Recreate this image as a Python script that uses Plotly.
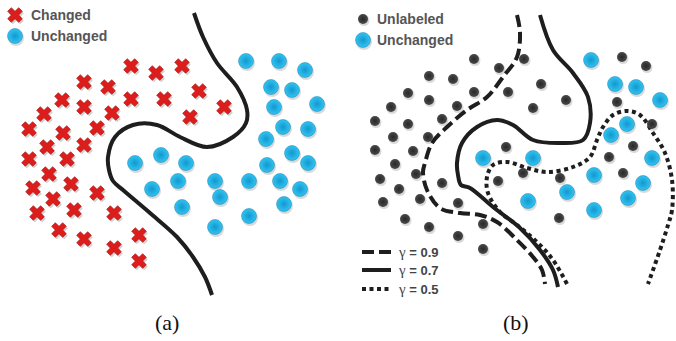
import plotly.graph_objects as go

# ---- panel (a) data (pixel-space coordinates of the illustration) ----
changed_x = [131,156,182,84,108,131,164,199,62,84,112,224,190,44,97,29,63,84,47,29,67,49,71,33,97,53,74,37,114,59,84,139,114,139]
changed_y = [66,73,66,82,87,99,99,91,100,107,113,107,117,114,128,129,133,145,147,159,159,174,184,188,193,199,210,213,213,230,239,235,248,261]

unch_a_x = [246,279,305,271,292,317,274,283,308,266,292,135,161,186,267,308,152,178,215,249,280,300,220,182,284,249,215]
unch_a_y = [61,61,70,87,90,104,107,127,129,139,153,163,155,163,165,163,189,181,181,181,181,189,197,207,204,216,227]

curve_a_x = [194,203,217,237,247,246,233,207,180,157,133,115,108,109,113,123,150,177,193,205,212]
curve_a_y = [13,37,63,87,110,123,137,147,137,125,125,137,157,170,181,190,213,237,257,277,295]

# ---- panel (b) data ----
unl_x = [474,499,524,429,453,541,408,474,508,429,457,533,566,391,375,408,442,393,428,375,413,506,395,622,646,617,652,633,609,380,416,442,399,383,420,458,405,429,483,458,483,498,523,560,623,559]
unl_y = [59,68,59,76,79,84,93,92,92,100,106,108,100,107,121,124,119,137,137,150,151,147,164,57,66,102,124,146,157,179,174,183,189,202,199,203,219,227,224,236,249,181,173,178,173,218]

unch_b_x = [591,615,636,660,627,611,483,533,652,594,567,528,643,628,594]
unch_b_y = [60,84,87,100,124,135,158,158,158,175,192,201,183,198,210]

g09_x = [517,520,517,503,487,467,447,432,425,423,427,440,460,480,497,517,533,542,545]
g09_y = [15,33,57,77,97,110,127,143,163,172,190,208,213,215,222,240,257,270,284]

g07_x = [540,553,573,588,590,583,560,533,513,497,477,462,457,458,461,470,493,520,540,553,558]
g07_y = [15,50,73,97,123,140,143,140,125,120,127,143,163,175,185,188,207,228,250,270,287]

g05_x = [567,553,537,517,500,488,487,493,507,527,547,573,590,597,603,613,627,640,653,665,672,672,668,660,648]
g05_y = [284,260,242,225,212,193,177,165,162,168,172,167,157,140,127,115,111,115,133,153,180,210,225,250,284]

legend_a_labels = ["Changed", "Unchanged"]
legend_b_labels = ["Unlabeled", "Unchanged"]
gamma_values = ["0.9", "0.7", "0.5"]
panel_labels = ["(a)", "(b)"]

RED = "#dd1c1c"
LINE = "#1e1e1e"

fig = go.Figure()

def red_x(xs, ys):
    fig.add_trace(go.Scatter(x=[v + 1.5 for v in xs], y=[v + 2 for v in ys], mode="markers",
                             marker=dict(symbol="x", size=13, color="rgba(0,0,0,0.18)", line=dict(width=0)),
                             hoverinfo="skip"))
    fig.add_trace(go.Scatter(x=xs, y=ys, mode="markers",
                             marker=dict(symbol="x", size=13, color=RED, line=dict(width=0.6, color="#a50f0f")),
                             hoverinfo="skip"))

def blue_dot(xs, ys, size=15):
    fig.add_trace(go.Scatter(x=[v + 1 for v in xs], y=[v + 2 for v in ys], mode="markers",
                             marker=dict(symbol="circle", size=size + 1, color="rgba(0,0,0,0.15)", line=dict(width=0)),
                             hoverinfo="skip"))
    fig.add_trace(go.Scatter(x=xs, y=ys, mode="markers",
                             marker=dict(symbol="circle", size=size, color="#33c3f0",
                                         gradient=dict(type="radial", color="#1298cf"),
                                         line=dict(width=0.5, color="#0d86b8")),
                             hoverinfo="skip"))

def dark_dot(xs, ys, size=10):
    fig.add_trace(go.Scatter(x=[v + 1 for v in xs], y=[v + 1.5 for v in ys], mode="markers",
                             marker=dict(symbol="circle", size=size + 1, color="rgba(0,0,0,0.15)", line=dict(width=0)),
                             hoverinfo="skip"))
    fig.add_trace(go.Scatter(x=xs, y=ys, mode="markers",
                             marker=dict(symbol="circle", size=size, color="#4a4a4a",
                                         gradient=dict(type="radial", color="#282828"),
                                         line=dict(width=0)),
                             hoverinfo="skip"))

def curve(xs, ys, dash="solid", width=4):
    fig.add_trace(go.Scatter(x=xs, y=ys, mode="lines",
                             line=dict(color=LINE, width=width, dash=dash, shape="spline", smoothing=1.0),
                             hoverinfo="skip"))

# panel (a)
curve(curve_a_x, curve_a_y)
red_x(changed_x, changed_y)
blue_dot(unch_a_x, unch_a_y)

# panel (b)
curve(g09_x, g09_y, dash="12px,5px")
curve(g07_x, g07_y)
curve(g05_x, g05_y, dash="4px,3.5px")
dark_dot(unl_x, unl_y)
blue_dot(unch_b_x, unch_b_y)

# legends
red_x([15], [15])
blue_dot([15], [36])
dark_dot([363], [19])
blue_dot([363], [40])

leg_font = dict(family="Liberation Sans, Arial, sans-serif", size=14, color="#555555")
for lbl, y in zip(legend_a_labels, [15, 36]):
    fig.add_annotation(x=29, y=y, text="<b>" + lbl + "</b>", showarrow=False, xanchor="left", yanchor="middle", font=leg_font)
for lbl, y in zip(legend_b_labels, [19, 40]):
    fig.add_annotation(x=375, y=y, text="<b>" + lbl + "</b>", showarrow=False, xanchor="left", yanchor="middle", font=leg_font)

gy = [252, 270, 289]
dashes = ["12px,5px", "solid", "4px,3.5px"]
for val, y, d in zip(gamma_values, gy, dashes):
    fig.add_trace(go.Scatter(x=[362, 391], y=[y, y], mode="lines", line=dict(color=LINE, width=4, dash=d), hoverinfo="skip"))
    fig.add_annotation(x=396, y=y,
                       text="<span style='font-family:Liberation Serif, serif;font-size:15px'>γ</span><b> = " + val + "</b>",
                       showarrow=False, xanchor="left", yanchor="middle",
                       font=dict(family="Liberation Sans, Arial, sans-serif", size=13, color="#444444"))

for lbl, x in zip(panel_labels, [167, 516]):
    fig.add_annotation(x=x, y=322, text=lbl, showarrow=False, xanchor="center", yanchor="middle",
                       font=dict(family="Liberation Serif, Times New Roman, serif", size=22, color="#111111"))

fig.update_layout(width=676, height=341, margin=dict(l=0, r=0, t=0, b=0),
                  paper_bgcolor="white", plot_bgcolor="white", showlegend=False,
                  xaxis=dict(range=[0, 676], visible=False, fixedrange=True),
                  yaxis=dict(range=[341, 0], visible=False, fixedrange=True))

fig.write_html("out.html", config={"displayModeBar": False},
               post_script="document.body.style.margin='0px';document.body.style.overflow='hidden';")
